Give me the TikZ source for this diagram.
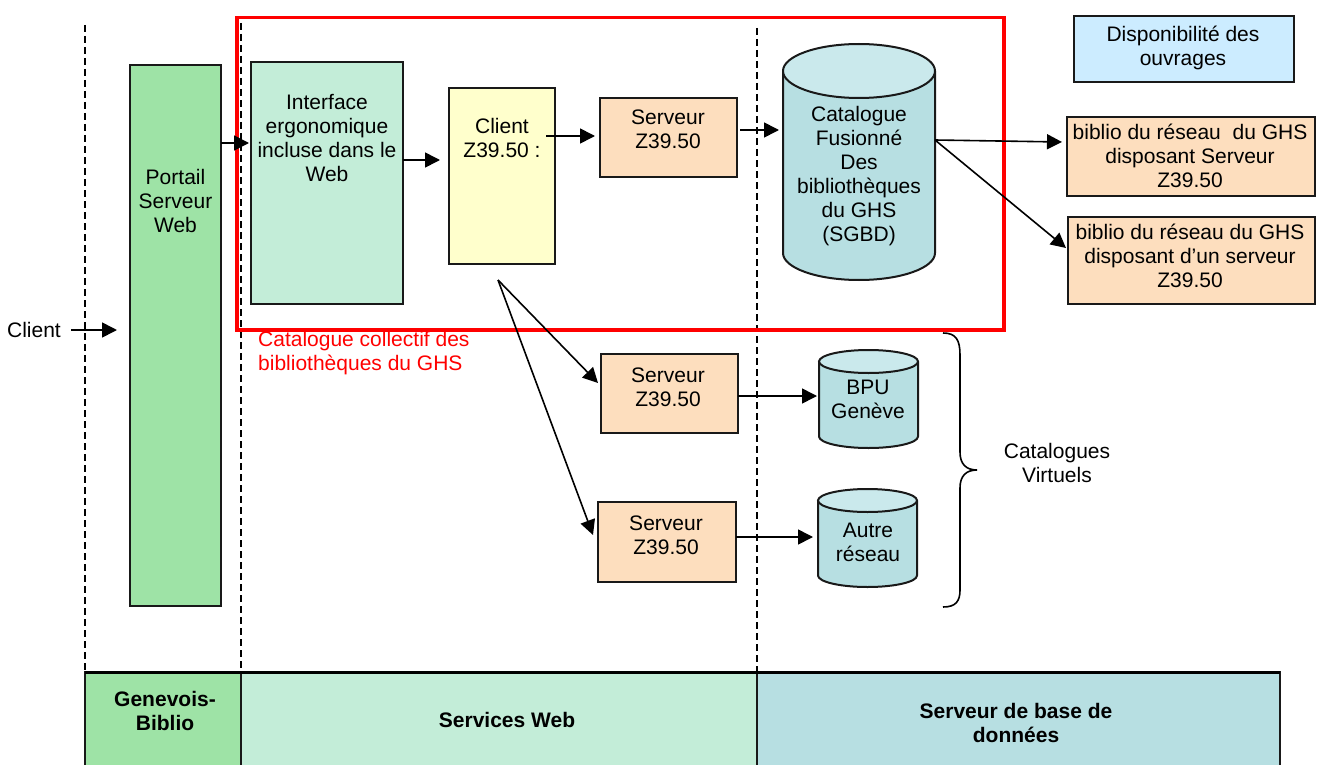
\documentclass[tikz,border=0pt]{standalone}
\usepackage{fontspec}
\setmainfont{Liberation Sans}
\usetikzlibrary{arrows.meta,calc}
\definecolor{cgreen}{RGB}{158,227,166}
\definecolor{cmint}{RGB}{195,237,216}
\definecolor{cyell}{RGB}{255,255,204}
\definecolor{cpeach}{RGB}{253,222,190}
\definecolor{ccyl}{RGB}{183,223,226}
\definecolor{ccyltop}{RGB}{202,233,236}
\definecolor{cblue}{RGB}{204,236,255}
\definecolor{cred}{RGB}{255,0,0}
\newcommand\dbcyl[5]{%
  \fill[ccyl] ({#1-#2},#3) -- ({#1-#2},#4) arc[start angle=180,end angle=360,x radius=#2pt,y radius=#5pt] -- ({#1+#2},#3) -- cycle;
  \draw[boxline] ({#1-#2},#3) -- ({#1-#2},#4) arc[start angle=180,end angle=360,x radius=#2pt,y radius=#5pt] -- ({#1+#2},#3);
  \filldraw[boxline,fill=ccyltop] (#1,#3) ellipse[x radius=#2pt,y radius=#5pt];
}
\tikzset{
  every node/.style={font=\fontsize{21}{24}\selectfont},
  boxline/.style={draw=black!90,line width=2pt},
  boxnode/.style={boxline,rectangle,anchor=north west,inner sep=0pt,outer sep=0pt},
  ghost/.style={rectangle,anchor=north west,inner sep=0pt,outer sep=0pt},
  txt/.style={align=center,inner sep=2pt},
  arr/.style={line width=1.6pt,-{Triangle[length=15pt,width=15pt]}},
  vline/.style={line width=1.5pt,dash pattern=on 7pt off 4pt},
  band/.style={boxnode,line width=1.5pt}
}
\begin{document}
\begin{tikzpicture}[x=1pt,y=-1pt]
\useasboundingbox (0,0) rectangle (1322,765);

% dashed separators
\draw[vline] (85,25) -- (85,672);
\draw[vline] (241,23) -- (241,672);
\draw[vline] (757,28) -- (757,672);

% boxes
\node[boxnode,fill=cgreen,minimum width=91,minimum height=541] (portail) at (130,65) {};
\node[boxnode,fill=cmint,minimum width=152,minimum height=242] (iface) at (251,62) {};
\node[boxnode,fill=cyell,minimum width=106,minimum height=176] (clientz) at (449,88) {};
\node[boxnode,fill=cpeach,minimum width=137,minimum height=79] (serv1) at (600,98) {};
\node[boxnode,fill=cblue,minimum width=220,minimum height=66] (dispo) at (1074,16) {};
\node[boxnode,fill=cpeach,minimum width=248,minimum height=79] (bib1) at (1067,117) {};
\node[boxnode,fill=cpeach,minimum width=247,minimum height=87] (bib2) at (1068,217) {};
\node[boxnode,fill=cpeach,minimum width=137,minimum height=79] (serv2) at (601,354) {};
\node[boxnode,fill=cpeach,minimum width=138,minimum height=80] (serv3) at (598,502) {};

% cylinders
\dbcyl{859}{76}{71}{253}{27}
\dbcyl{868.5}{49.5}{361.5}{436.5}{11.5}
\dbcyl{867.5}{49.5}{500.5}{575.5}{11.5}
\node[ghost,minimum width=152,minimum height=236] (cat) at (783,44) {};
\node[ghost,minimum width=99,minimum height=98] (bpu) at (819,350) {};
\node[ghost,minimum width=99,minimum height=98] (autre) at (818,489) {};

% red frame
\node[draw=cred,line width=3.5pt,anchor=north west,inner sep=0pt,minimum width=767,minimum height=312] (frame) at (235,16) {};

% texts
\node[txt] (clientlbl) at (34,330) {Client};
\node[txt] (tportail) at (175.5,201) {Portail\\Serveur\\Web};
\node[txt] (tiface) at (327,138) {Interface\\ergonomique\\incluse dans le\\Web};
\node[txt] (tclientz) at (502,138) {Client\\Z39.50 :};
\node[txt] (tserv1) at (668,129) {Serveur\\Z39.50};
\node[txt] (tcat) at (859,176.5) {Catalogue\\Fusionné\\Des\\bibliothèques\\du GHS\\(SGBD)};
\node[txt] (tdispo) at (1183,48) {Disponibilité des\\ouvrages};
\node[txt] (tbib1) at (1190,156) {biblio du réseau\ \ du GHS\\disposant Serveur\\Z39.50};
\node[txt] (tbib2) at (1190,256) {biblio du réseau du GHS\\disposant d’un serveur\\Z39.50};
\node[txt] (tserv2) at (668,387) {Serveur\\Z39.50};
\node[txt] (tserv3) at (666,535) {Serveur\\Z39.50};
\node[txt] (tbpu) at (868,399) {BPU\\Genève};
\node[txt] (tautre) at (868,542) {Autre\\réseau};
\node[txt] (tvirt) at (1057,463) {Catalogues\\Virtuels};
\node[align=left,anchor=west,inner sep=0pt,text=cred] (tcap) at (258,353) {Catalogue collectif des\\bibliothèques du GHS};

% connectors
\coordinate (fork) at (498,280);
\draw[arr] ([xshift=8pt]clientlbl.east) -- ([xshift=-13pt]portail.west |- clientlbl.east);
\draw[arr] (portail.east |- 0,143) -- ([xshift=-2pt]iface.west |- 0,143);
\draw[arr] (iface.east |- 0,160) -- ([xshift=-9pt]clientz.west |- 0,160);
\draw[arr] ([xshift=-9pt]clientz.east |- 0,136) -- ([xshift=-5pt]serv1.west |- 0,136);
\draw[arr] ([xshift=3pt]serv1.east |- 0,130) -- ([xshift=-4pt]cat.west |- 0,130);
\draw[arr] (cat.east |- 0,140) -- ([xshift=-5pt]bib1.west |- 0,142);
\draw[arr] (cat.east |- 0,140) -- ([xshift=-2pt]bib2.west |- 0,248);
\draw[arr] (fork) -- ([xshift=-3pt]serv2.west |- 0,383);
\draw[arr] (fork) -- ([xshift=-5pt]serv3.west |- 0,535);
\draw[arr] (serv2.east |- 0,396) -- ([xshift=-2pt]bpu.west |- 0,396);
\draw[arr] (serv3.east |- 0,537) -- ([xshift=-5pt]autre.west |- 0,537);

% brace
\draw[line width=1.6pt] (943,333) .. controls (956,333) and (960,340) .. (960,355) -- (960,452) .. controls (960,464) and (966,470) .. (977,470) .. controls (966,470) and (960,476) .. (960,488) -- (960,590) .. controls (960,601) and (956,607) .. (943,607);

% bottom band
\node[band,fill=cgreen,minimum width=156,minimum height=110] (genev) at (85,672) {};
\node[band,fill=cmint,minimum width=516,minimum height=110] (sweb) at (241,672) {};
\node[band,fill=ccyl,minimum width=523,minimum height=110] (sdb) at (757,672) {};
\draw[line width=3pt] (genev.north west) -- (sdb.north east);
\node[txt,font=\fontsize{21}{24}\selectfont\bfseries] (tgenev) at (165,711) {Genevois-\\Biblio};
\node[txt,font=\fontsize{21}{24}\selectfont\bfseries] (tsweb) at (507,720) {Services Web};
\node[txt,font=\fontsize{21}{24}\selectfont\bfseries] (tsdb) at (1016,723) {Serveur de base de\\données};
\end{tikzpicture}
\end{document}
